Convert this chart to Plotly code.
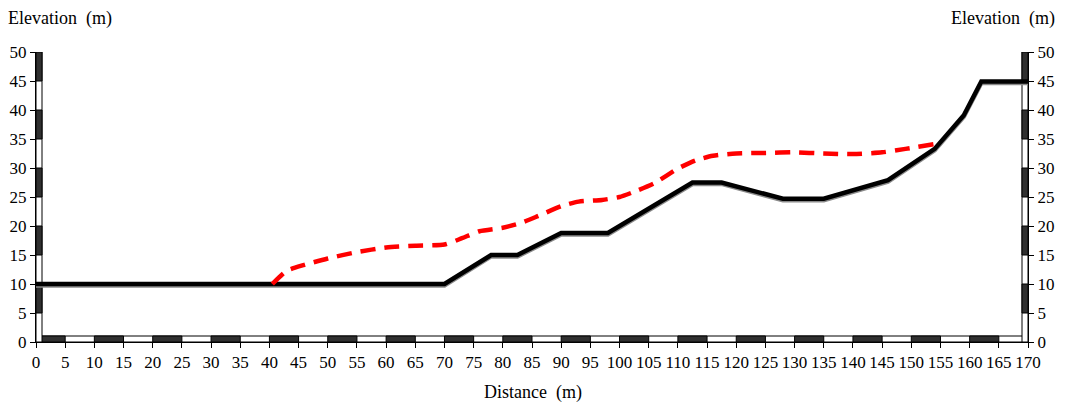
import plotly.graph_objects as go

# Ground profile (black solid)
ground_x = [0, 70, 78, 82.5, 90, 98, 112.5, 117.5, 128, 135, 146, 154, 159, 162, 170]
ground_y = [10, 10, 15, 15, 18.8, 18.8, 27.5, 27.5, 24.7, 24.7, 27.9, 33.3, 39.1, 44.9, 44.9]

# Second profile (red dashed)
red_x = [40.5, 43, 46, 50, 55, 60, 65, 70, 73, 76, 80, 83, 86, 90, 93, 97, 100,
         103, 106, 110, 113, 116, 120, 125, 130, 135, 140, 145, 149, 153.8]
red_y = [10, 12.3, 13.3, 14.4, 15.5, 16.3, 16.6, 16.8, 17.9, 19.1, 19.7, 20.5, 21.7,
         23.4, 24.2, 24.5, 25.0, 26.1, 27.4, 29.9, 31.3, 32.1, 32.5, 32.6, 32.7, 32.5,
         32.4, 32.7, 33.3, 34.1]

x_ticks = list(range(0, 171, 5))
y_ticks = list(range(0, 51, 5))
X_MAX = 170
Y_MAX = 50
SEG = 5

FONT = "Liberation Serif, Times New Roman, serif"

fig = go.Figure()

# shadow of ground line
fig.add_trace(go.Scatter(x=ground_x, y=[v - 0.25 for v in ground_y], mode="lines",
                         line=dict(color="#8a8a8a", width=4.5), hoverinfo="skip",
                         showlegend=False))
fig.add_trace(go.Scatter(x=ground_x, y=ground_y, mode="lines",
                         line=dict(color="black", width=4.5), showlegend=False))
fig.add_trace(go.Scatter(x=red_x, y=red_y, mode="lines",
                         line=dict(color="#ff0000", width=4.5, dash="15px,9px", shape="spline",
                                   smoothing=0.6),
                         showlegend=False))
# dummy trace for right axis
fig.add_trace(go.Scatter(x=[None], y=[None], yaxis="y2", showlegend=False, hoverinfo="skip"))

shapes = []
# bottom scale bar
shapes.append(dict(type="rect", xref="x", yref="y", x0=0, x1=X_MAX, ysizemode="pixel",
                   yanchor=0, y0=0, y1=6, fillcolor="white",
                   line=dict(color="black", width=1), layer="below"))
for i, t in enumerate(x_ticks[:-1]):
    if i % 2 == 0:
        shapes.append(dict(type="rect", xref="x", yref="y", x0=t, x1=t + SEG,
                           ysizemode="pixel", yanchor=0, y0=0, y1=6,
                           fillcolor="#303030", line=dict(color="black", width=1),
                           layer="below"))
# left and right scale bars
for anchor, p0, p1 in [(0, 0, 6), (X_MAX, -6, 0)]:
    shapes.append(dict(type="rect", xref="x", yref="y", xsizemode="pixel", xanchor=anchor,
                       x0=p0, x1=p1, y0=0, y1=Y_MAX, fillcolor="white",
                       line=dict(color="black", width=1), layer="below"))
    for i, t in enumerate(y_ticks[:-1]):
        if i % 2 == 1:
            shapes.append(dict(type="rect", xref="x", yref="y", xsizemode="pixel",
                               xanchor=anchor, x0=p0, x1=p1, y0=t, y1=t + SEG,
                               fillcolor="#303030", line=dict(color="black", width=1),
                               layer="below"))

axis_common = dict(showgrid=False, zeroline=False, showline=True, linecolor="black",
                   linewidth=1, ticks="outside", tickcolor="black", tickwidth=1,
                   ticklen=5, automargin=False,
                   tickfont=dict(family=FONT, size=17, color="black"))

fig.update_layout(
    width=1070, height=408,
    margin=dict(l=36, r=42, t=52, b=66),
    paper_bgcolor="white", plot_bgcolor="white",
    xaxis=dict(range=[0, X_MAX], tickvals=x_ticks, **axis_common),
    yaxis=dict(range=[0, Y_MAX], tickvals=y_ticks, **axis_common),
    yaxis2=dict(range=[0, Y_MAX], tickvals=y_ticks, overlaying="y", side="right",
                **axis_common),
    shapes=shapes,
    annotations=[
        dict(text="Elevation  (m)", xref="paper", yref="paper", x=-30 / 992, y=1 + 34 / 290,
             xanchor="left", yanchor="middle", showarrow=False,
             font=dict(family=FONT, size=18, color="black")),
        dict(text="Elevation  (m)", xref="paper", yref="paper", x=1 + 29 / 992, y=1 + 34 / 290,
             xanchor="right", yanchor="middle", showarrow=False,
             font=dict(family=FONT, size=18, color="black")),
        dict(text="Distance  (m)", xref="paper", yref="paper", x=(533 - 36) / 992,
             y=-(392 - 342) / 290, xanchor="center", yanchor="middle", showarrow=False,
             font=dict(family=FONT, size=18, color="black")),
    ],
)

fig.write_html("out.html")
